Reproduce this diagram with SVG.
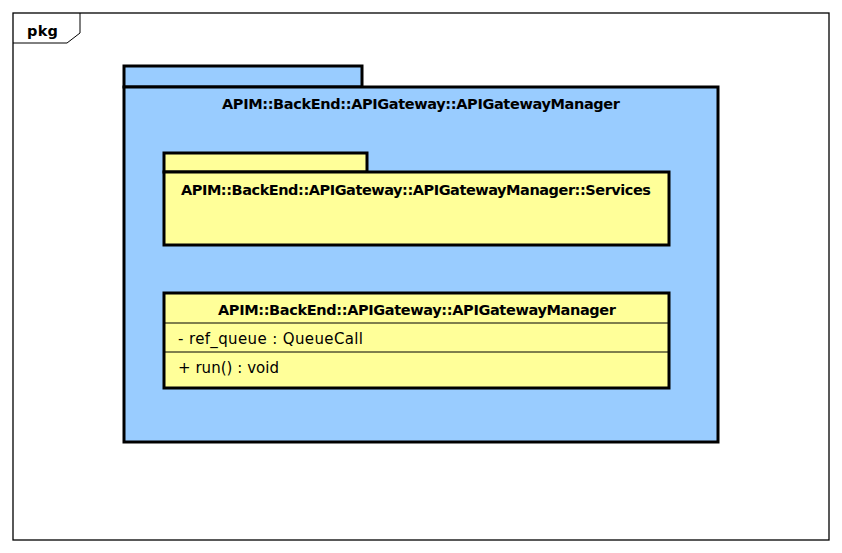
<svg xmlns="http://www.w3.org/2000/svg" width="842" height="553" viewBox="0 0 842 553">
<style>
.frame{fill:#fff;stroke:#000;stroke-width:1.3}
.blue{fill:#99ccff;stroke:#000;stroke-width:3}
.yel{fill:#ffff99;stroke:#000;stroke-width:3}
.div{stroke:#000;stroke-width:1;fill:none}
text{font-family:"DejaVu Sans","Liberation Sans",sans-serif;font-size:14.5px;fill:#000}
.b{font-weight:bold}
.m{text-anchor:middle}
.a{font-size:15px}
</style>
<rect width="842" height="553" fill="#fff"/>
<g id="frame">
<rect class="frame" x="13" y="13" width="816" height="527"/>
<path class="div" d="M13,43 H67 L80,33 V13" stroke-width="1.3"/>
<text class="b" x="27" y="36" textLength="31">pkg</text>
</g>
<g id="pkg-manager">
<rect class="blue" x="124" y="66" width="238" height="21"/>
<rect class="blue" x="124" y="87" width="594" height="355"/>
<text class="b m" x="421" y="109" textLength="398">APIM::BackEnd::APIGateway::APIGatewayManager</text>
</g>
<g id="pkg-services">
<rect class="yel" x="164" y="153" width="203" height="19"/>
<rect class="yel" x="164" y="172" width="505" height="73"/>
<text class="b m" x="416" y="195" textLength="470">APIM::BackEnd::APIGateway::APIGatewayManager::Services</text>
</g>
<g id="class-manager">
<rect class="yel" x="164" y="293" width="505" height="95"/>
<line class="div" x1="164" y1="323" x2="669" y2="323"/>
<line class="div" x1="164" y1="352" x2="669" y2="352"/>
<text class="b m" x="417" y="315" textLength="398">APIM::BackEnd::APIGateway::APIGatewayManager</text>
<text class="a" x="178" y="344" textLength="185">- ref_queue : QueueCall</text>
<text class="a" x="178" y="373" textLength="101">+ run() : void</text>
</g>
<g id="connectors"/>
</svg>
